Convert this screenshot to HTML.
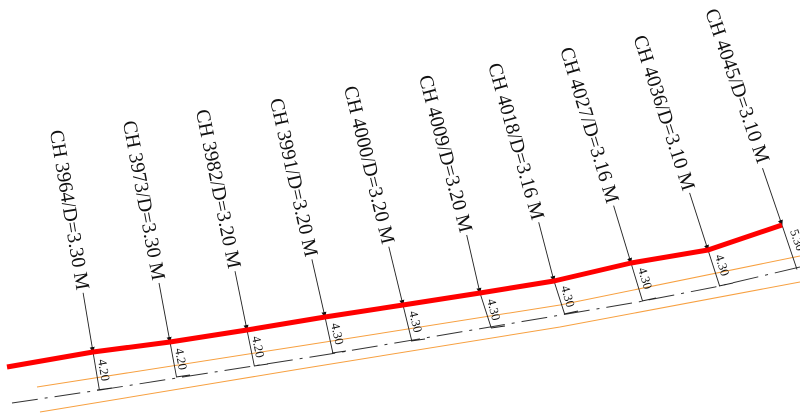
<!DOCTYPE html>
<html><head><meta charset="utf-8"><style>
html,body{margin:0;padding:0;background:#fff;width:800px;height:413px;overflow:hidden}
svg{display:block}
text{font-family:"Liberation Serif",serif;fill:#111}
</style></head><body>
<svg width="800" height="413" viewBox="0 0 800 413" xmlns="http://www.w3.org/2000/svg">
<defs><marker id="ar" markerWidth="6" markerHeight="8" refX="5" refY="4" orient="auto" markerUnits="userSpaceOnUse"><path d="M0,1.5 L6,4 L0,6.5 Z" fill="#111"/></marker></defs>
<polyline points="37,387 300,346 560,305 800,256" fill="none" stroke="#f7a040" stroke-width="1"/>
<polyline points="40,412 300,369 560,327 800,282" fill="none" stroke="#f7a040" stroke-width="1"/>
<polyline points="12,403 100,390 330,354 638,302 715,287 800,267" fill="none" stroke="#333" stroke-width="1" stroke-dasharray="26,7,3,7"/>
<g stroke="#222" stroke-width="0.9" fill="none">
<line x1="83.1" y1="292.8" x2="93" y2="352" marker-end="url(#ar)"/><line x1="93" y1="352" x2="99.3" y2="389.5"/><line x1="97" y1="390" x2="112" y2="388"/>
<line x1="159" y1="283" x2="170" y2="342" marker-end="url(#ar)"/><line x1="170" y1="342" x2="176.4" y2="376.4"/><line x1="176" y1="377" x2="190" y2="375"/>
<line x1="235" y1="271.2" x2="247" y2="330" marker-end="url(#ar)"/><line x1="247" y1="330" x2="254.4" y2="366.3"/><line x1="254" y1="366" x2="268" y2="364"/>
<line x1="311.9" y1="259.4" x2="325" y2="317" marker-end="url(#ar)"/><line x1="325" y1="317" x2="332.9" y2="353.1"/><line x1="332" y1="353" x2="346" y2="351"/>
<line x1="388.8" y1="246.7" x2="403" y2="305" marker-end="url(#ar)"/><line x1="403" y1="305" x2="411.8" y2="341"/><line x1="411" y1="341" x2="425" y2="339"/>
<line x1="466.7" y1="235" x2="480" y2="293" marker-end="url(#ar)"/><line x1="480" y1="293" x2="491.2" y2="327.8"/><line x1="491" y1="328" x2="505" y2="326"/>
<line x1="538.7" y1="222.3" x2="554" y2="281" marker-end="url(#ar)"/><line x1="554" y1="281" x2="564.5" y2="313.7"/><line x1="564" y1="314" x2="578" y2="311"/>
<line x1="613.6" y1="205.6" x2="631" y2="263" marker-end="url(#ar)"/><line x1="631" y1="263" x2="642.6" y2="301.3"/><line x1="642" y1="301" x2="656" y2="298"/>
<line x1="689.6" y1="192.9" x2="708" y2="250" marker-end="url(#ar)"/><line x1="708" y1="250" x2="719.7" y2="286.2"/><line x1="719" y1="286" x2="733" y2="283"/>
<line x1="762.5" y1="168.2" x2="782" y2="225" marker-end="url(#ar)"/><line x1="782" y1="225" x2="797" y2="269.5"/>
</g>
<polyline points="7,367 93,352 170,342 247,330 325,317 403,305 480,293 554,281 631,263 708,250 782,225" fill="none" stroke="#ff0000" stroke-width="5" stroke-linejoin="round"/>
<g font-size="20" text-anchor="middle">
<text transform="translate(69.2,210) rotate(80.5)" dy="6">CH 3964/D=3.30 M</text>
<text transform="translate(143.6,200.4) rotate(79.45)" dy="6">CH 3973/D=3.30 M</text>
<text transform="translate(218,188.9) rotate(78.4)" dy="6">CH 3982/D=3.20 M</text>
<text transform="translate(293.5,177.5) rotate(77.35)" dy="6">CH 3991/D=3.20 M</text>
<text transform="translate(368.9,165) rotate(76.3)" dy="6">CH 4000/D=3.20 M</text>
<text transform="translate(445.3,153.8) rotate(75.25)" dy="6">CH 4009/D=3.20 M</text>
<text transform="translate(515.8,141.5) rotate(74.2)" dy="6">CH 4018/D=3.16 M</text>
<text transform="translate(589.2,125.2) rotate(73.15)" dy="6">CH 4027/D=3.16 M</text>
<text transform="translate(663.8,112.9) rotate(72.1)" dy="6">CH 4036/D=3.10 M</text>
<text transform="translate(737,86) rotate(71.05)" dy="6">CH 4045/D=3.10 M</text>
</g>
<g font-size="12.5">
<text transform="translate(98,360) rotate(80.5)">4.20</text>
<text transform="translate(175,349) rotate(79.45)">4.20</text>
<text transform="translate(252,337) rotate(78.4)">4.20</text>
<text transform="translate(331,324) rotate(77.35)">4.30</text>
<text transform="translate(409,312) rotate(76.3)">4.30</text>
<text transform="translate(487,300) rotate(75.25)">4.30</text>
<text transform="translate(561,287) rotate(74.2)">4.30</text>
<text transform="translate(638,269) rotate(73.15)">4.30</text>
<text transform="translate(715,256) rotate(72.1)">4.30</text>
<text transform="translate(790,231) rotate(71.05)">5.30</text>
</g>
</svg>
</body></html>
